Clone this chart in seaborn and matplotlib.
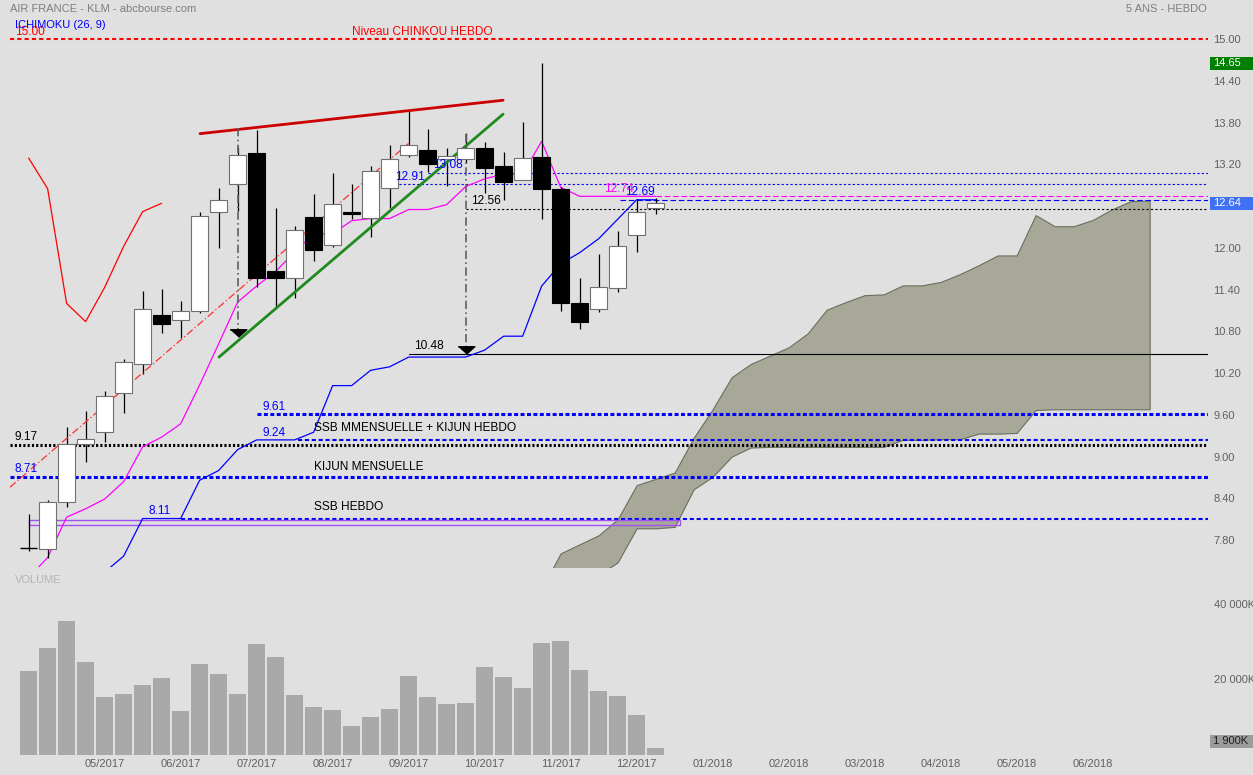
import numpy as np
import pandas as pd
import seaborn as sns
import matplotlib.pyplot as plt
import matplotlib.transforms as mtransforms
from matplotlib.patches import Rectangle

# weekly candles, week 0 = first candle on screen
opens = [7.68, 7.67, 8.35, 9.18, 9.35, 9.92, 10.33, 11.03, 10.96, 11.09, 12.52, 12.92,
         13.36, 11.67, 11.57, 12.44, 12.04, 12.51, 12.43, 12.86, 13.34, 13.40, 13.27, 13.27,
         13.43, 13.18, 12.98, 13.30, 12.85, 11.21, 11.12, 11.42, 12.18, 12.57]
highs = [8.18, 8.38, 9.42, 9.66, 9.94, 10.40, 11.38, 11.41, 11.24, 12.51, 12.86, 13.45,
         13.69, 12.57, 12.31, 12.78, 13.08, 12.91, 13.17, 13.48, 13.96, 13.71, 13.43, 13.65,
         13.52, 13.38, 13.81, 14.65, 12.87, 11.56, 11.91, 12.24, 12.70, 12.72]
lows = [7.64, 7.54, 8.28, 8.92, 9.21, 9.63, 10.19, 10.78, 10.71, 11.06, 12.00, 12.53,
        11.43, 11.14, 11.28, 11.81, 12.01, 12.41, 12.16, 12.57, 13.30, 13.09, 12.89, 13.22,
        12.79, 12.68, 12.98, 12.42, 11.09, 10.83, 11.08, 11.36, 11.94, 12.49]
closes = [7.68, 8.35, 9.18, 9.26, 9.87, 10.36, 11.12, 10.90, 11.09, 12.46, 12.68, 13.33,
          11.57, 11.56, 12.25, 11.97, 12.63, 12.48, 13.10, 13.27, 13.48, 13.21, 13.32, 13.44,
          13.15, 12.95, 13.29, 12.85, 11.20, 10.94, 11.43, 12.02, 12.52, 12.64]
volumes = [22200, 28200, 35500, 24500, 15300, 16200, 18500, 20200, 11600, 24000, 21300, 16100,
           29200, 25900, 15700, 12700, 11800, 7500, 10000, 12200, 20900, 15400, 13400, 13700,
           23200, 20600, 17600, 29500, 30100, 22400, 16900, 15500, 10500, 1900]

# ichimoku lines
tenkan = [7.26, 7.55, 8.13, 8.25, 8.39, 8.64, 9.14, 9.28, 9.47, 10.03, 10.62, 11.22,
          11.45, 11.66, 11.94, 12.20, 12.20, 12.39, 12.42, 12.42, 12.55, 12.55, 12.62, 12.88,
          12.99, 13.06, 13.06, 13.53, 12.87, 12.74, 12.74, 12.74, 12.74, 12.74]
kijun = [np.nan, np.nan, np.nan, np.nan, 7.34, 7.57, 8.11, 8.11, 8.11, 8.66, 8.80, 9.10,
         9.24, 9.24, 9.24, 9.35, 10.02, 10.02, 10.24, 10.29, 10.43, 10.43, 10.43, 10.43,
         10.53, 10.73, 10.73, 11.45, 11.77, 11.93, 12.13, 12.41, 12.69, 12.69]
cloud_weeks = list(range(27, 60))
span_a = [7.10, 7.61, 7.74, 7.87, 8.10, 8.59, 8.68, 8.77, 9.27, 9.68, 10.14, 10.33,
          10.45, 10.57, 10.77, 11.11, 11.22, 11.32, 11.33, 11.46, 11.46, 11.51, 11.62, 11.75,
          11.89, 11.89, 12.47, 12.31, 12.31, 12.40, 12.55, 12.67, 12.68]
span_b = [6.90, 7.00, 7.15, 7.30, 7.48, 7.97, 7.97, 7.99, 8.53, 8.71, 9.00, 9.13,
          9.14, 9.14, 9.14, 9.14, 9.14, 9.14, 9.14, 9.24, 9.24, 9.25, 9.25, 9.33,
          9.33, 9.34, 9.67, 9.68, 9.68, 9.68, 9.68, 9.68, 9.68]

month_ticks = [4, 8, 12, 16, 20, 24, 28, 32, 36, 40, 44, 48, 52, 56]
month_labels = ["05/2017", "06/2017", "07/2017", "08/2017", "09/2017", "10/2017", "11/2017",
                "12/2017", "01/2018", "02/2018", "03/2018", "04/2018", "05/2018", "06/2018"]
price_ticks = [15.00, 14.40, 13.80, 13.20, 12.00, 11.40, 10.80, 10.20, 9.60, 9.00, 8.40, 7.80]

weeks = np.arange(len(opens))
df = pd.DataFrame({"week": weeks, "open": opens, "high": highs, "low": lows,
                   "close": closes, "volume": volumes, "tenkan": tenkan, "kijun": kijun})
# chikou = close drawn 26 weeks back
chikou = df["close"].shift(-26)

BG = "#e0e0e0"
sns.set_style("white", {"axes.facecolor": BG, "figure.facecolor": BG})
plt.rcParams['font.family'] = ['Liberation Sans', 'DejaVu Sans']

W, H = 1253, 775
fig = plt.figure(figsize=(W / 100, H / 100), dpi=100)
ax = fig.add_axes([10 / W, 1 - 567 / H, 1198 / W, 549 / H])
axv = fig.add_axes([10 / W, 1 - 754.7 / H, 1198 / W, 162.7 / H])
XMIN, XMAX = -0.98, 62.07

# cloud
ax.fill_between(cloud_weeks, span_b, span_a, facecolor="#a8a899", edgecolor="#6d6d5e",
                lw=0.8, zorder=1)

# horizontal levels: (price, start week, color, lw, dashes)
levels = [
    (15.00, XMIN, "#ff0000", 1.5, (2, 1.5)),
    (13.08, 21.0, "#0000ff", 0.8, (2, 2)),
    (12.91, 19.0, "#0000ff", 0.8, (2, 2)),
    (12.74, 33.0, "#ff00ff", 0.8, (5, 2.5)),
    (12.69, 31.1, "#0000ff", 0.8, (5, 2.5)),
    (12.56, 23.0, "#000000", 0.8, (2, 2)),
    (10.48, 20.0, "#000000", 0.8, None),
    (9.61, 12.0, "#0000ff", 2.2, (1.3, 0.8)),
    (9.24, 14.2, "#0000ff", 1.5, (2, 1.3)),
    (9.17, XMIN, "#000000", 2.2, (0.7, 0.7)),
    (8.71, XMIN, "#0000ff", 2.2, (1.3, 0.8)),
    (8.11, 8.0, "#0000ff", 1.5, (2, 1.3)),
]
for y, x0, col, lw, dash in levels:
    if dash is None:
        ax.plot([x0, XMAX], [y, y], color=col, lw=lw, zorder=2)
    else:
        ax.plot([x0, XMAX], [y, y], color=col, lw=lw, dashes=dash, zorder=2)

ax.add_patch(Rectangle((0, 8.02), 34.3, 0.07, fill=False, edgecolor="#a050f0", lw=1, zorder=2))

# trend lines
ax.plot([9.02, 24.97], [13.64, 14.12], color="#cc0000", lw=2, zorder=5)
ax.plot([10.02, 24.97], [10.43, 13.92], color="#1f8a1f", lw=2, zorder=5)
ax.plot([XMIN, 20.0], [8.56, 13.50], color="#ff3030", lw=0.9, dashes=(6, 2, 1, 2), zorder=5)
ax.plot([11, 11], [13.72, 10.82], color="#606060", lw=1.2, dashes=(5, 2, 1, 2), zorder=5)
ax.plot([23, 23], [13.64, 10.58], color="#606060", lw=1.2, dashes=(5, 2, 1, 2), zorder=5)
tri = [(-1, 0.45), (1, 0.45), (0, -0.45)]
ax.plot([11, 23], [10.78, 10.53], ls="none", marker=tri, ms=12, color="black", zorder=6)

# ichimoku lines
sns.lineplot(data=df, x="week", y="tenkan", color="#ff00ff", lw=0.9, estimator=None, ax=ax, zorder=3)
sns.lineplot(data=df, x="week", y="kijun", color="#0000ff", lw=0.9, estimator=None, ax=ax, zorder=3)
ax.plot(weeks, chikou, color="#ff0000", lw=0.9, zorder=3)

# candles
for i in weeks:
    o, h, l, c = opens[i], highs[i], lows[i], closes[i]
    ax.vlines(i, l, h, color="black", lw=0.9, zorder=4)
    if abs(c - o) < 0.02:
        ax.hlines(c, i - 0.43, i + 0.43, color="black", lw=1, zorder=5)
    elif c > o:
        ax.bar(i, c - o, bottom=o, width=0.86, color="white", edgecolor="#707070", lw=0.8, zorder=5)
    else:
        ax.bar(i, o - c, bottom=c, width=0.86, color="black", edgecolor="black", lw=0.8, zorder=5)

# level labels
fs = 8
lfs = 8.6
labels = [
    ("15.00", -0.72, 15.00, "#ff0000"), ("Niveau CHINKOU HEBDO", 17.0, 15.00, "#ff0000"),
    ("13.08", 21.3, 13.08, "#0000ff"), ("12.91", 19.3, 12.91, "#0000ff"),
    ("12.74", 30.3, 12.74, "#ff00ff"), ("12.69", 31.4, 12.69, "#0000ff"),
    ("12.56", 23.3, 12.56, "#000000"), ("10.48", 20.3, 10.48, "#000000"),
    ("9.61", 12.3, 9.61, "#0000ff"), ("9.24", 12.3, 9.24, "#0000ff"),
    ("9.17", -0.72, 9.17, "#000000"), ("8.71", -0.72, 8.71, "#0000ff"),
    ("8.11", 6.3, 8.11, "#0000ff"),
]
for s, x, y, col in labels:
    ax.text(x, y + 0.02, s, color=col, fontsize=lfs, ha="left", va="bottom", zorder=7)
for s, y in [("SSB MMENSUELLE + KIJUN HEBDO", 9.41), ("KIJUN MENSUELLE", 8.85), ("SSB HEBDO", 8.27)]:
    ax.text(15.0, y, s, color="black", fontsize=lfs, ha="left", va="center", zorder=7)

ax.set_xlim(XMIN, XMAX)
ax.set_ylim(15 - 528 / 69.6, 15 + 21 / 69.6)
ax.yaxis.tick_right()
ax.set_yticks(price_ticks)
ax.set_yticklabels([f"{t:.2f}" for t in price_ticks])
ax.set_xticks([])
ax.tick_params(axis="y", length=0, pad=4, labelcolor="#606060", labelsize=fs)
ax.set_xlabel("")
ax.set_ylabel("")
sns.despine(ax=ax, left=True, bottom=True)
ax.spines["right"].set_visible(False)

# price boxes on right axis
tr = mtransforms.blended_transform_factory(ax.transAxes, ax.transData)
for val, col in [(14.65, "#008000"), (12.64, "#4071f4")]:
    ax.add_patch(Rectangle((1.0017, val - 0.094), 0.036, 0.187, transform=tr,
                           facecolor=col, edgecolor="none", clip_on=False, zorder=8))
    ax.text(1.0042, val, f"{val:.2f}", transform=tr, color="white", fontsize=fs,
            ha="left", va="center", zorder=9, clip_on=False)

# volume
sns.barplot(data=df, x="week", y="volume", native_scale=True, color="#a9a9a9",
            saturation=1, width=0.9, linewidth=0, errorbar=None, ax=axv)
axv.set_xlim(XMIN, XMAX)
axv.set_ylim(0, 43100)
axv.yaxis.tick_right()
axv.set_yticks([40000, 20000])
axv.set_yticklabels(["40 000K", "20 000K"])
axv.set_xticks(month_ticks)
axv.set_xticklabels(month_labels)
axv.tick_params(axis="both", length=0, labelcolor="#606060", labelsize=fs)
axv.tick_params(axis="x", pad=3)
axv.tick_params(axis="y", pad=4)
axv.set_xlabel("")
axv.set_ylabel("")
sns.despine(ax=axv, left=True, bottom=True)
axv.spines["right"].set_visible(False)
trv = mtransforms.blended_transform_factory(axv.transAxes, axv.transData)
axv.add_patch(Rectangle((1.0017, 1775), 0.036, 3445, transform=trv, facecolor="#9c9c9c",
                        edgecolor="none", clip_on=False, zorder=8))
axv.text(1.0042, 3500, "1 900K", transform=trv, color="#1e1e1e", fontsize=fs,
         ha="left", va="center", clip_on=False, zorder=9)

# header texts
fig.text(10 / W, 1 - 9 / H, "AIR FRANCE - KLM - abcbourse.com", color="#7f7f7f", fontsize=fs, va="center")
fig.text(15 / W, 1 - 25 / H, "ICHIMOKU (26, 9)", color="#0000ff", fontsize=fs, va="center")
fig.text(1207 / W, 1 - 9 / H, "5 ANS - HEBDO", color="#7f7f7f", fontsize=fs, va="center", ha="right")
fig.text(15 / W, 1 - 580 / H, "VOLUME", color="#b4b4b4", fontsize=fs, va="center")

fig.savefig("out.png", dpi=100, facecolor=BG)
